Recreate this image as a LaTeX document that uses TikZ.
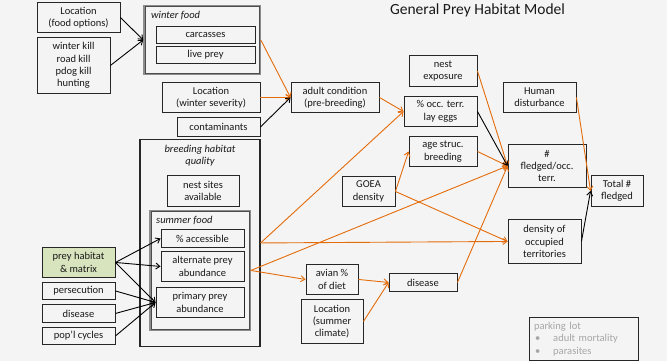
\documentclass[tikz,border=0pt]{standalone}
\usepackage{fontspec}
\setmainfont{Carlito}
\usetikzlibrary{arrows.meta}
\definecolor{bgcol}{HTML}{F4F4F4}
\definecolor{linkorange}{HTML}{E46C0A}
\definecolor{matrixgreen}{HTML}{D7E4BD}
\definecolor{lotgray}{HTML}{A6A6A6}

\begin{document}
\begin{tikzpicture}[x=1pt, y=-1pt, font=\fontsize{10.5}{12.3}\selectfont, text=black!90,
		box/.style={draw=black!85, line width=0.9pt, align=center, inner sep=1pt},
		grp/.style={draw=black!45, line width=1.6pt},
		grpin/.style={draw=black!70, line width=0.6pt},
		oarr/.style={draw=linkorange, line width=0.9pt, -{Straight Barb[length=4pt,width=6pt]}},
		barr/.style={draw=black, line width=0.9pt, -{Straight Barb[length=4pt,width=6pt]}}]
		\fill[bgcol] (0,0) rectangle (667,361);
		\node (title) at (477.5,9.5){\fontsize{15.5}{17}\selectfont General Prey Habitat Model};
		
		%winter food
		\node (locfood) at (78.5,17) [box, minimum width=83, minimum height=30]{Location\\(food options)};
		\node (kills) at (73.5,65) [box, minimum width=73, minimum height=56]{winter kill\\road kill\\pdog kill\\hunting};
		\node (winterfood) at (202,39.5) [grp, minimum width=116, minimum height=69]{};
		\draw[grpin] ([shift={(2,2)}]winterfood.north west) rectangle ([shift={(-2,-2)}]winterfood.south east);
		\node (wflabel) at (151,15.5) [anchor=west, inner sep=0]{\itshape winter food};
		\node (carcasses) at (205.5,34.5) [box, minimum width=99, minimum height=17]{carcasses};
		\node (liveprey) at (205.5,54.5) [box, minimum width=99, minimum height=17]{live prey};
		\node (locwinter) at (211,97) [box, minimum width=98, minimum height=30]{Location\\(winter severity)};
		\node (contam) at (218.5,126.5) [box, minimum width=83, minimum height=19]{contaminants};
		\node (adult) at (335,97) [box, minimum width=88, minimum height=30]{adult condition\\(pre-breeding)};
		
		%breeding habitat
		\node (breeding) at (200,242.5) [box, line width=1.2pt, minimum width=120, minimum height=207]{};
		\node (bqlabel) at (200,155) [align=center, inner sep=0]{\itshape breeding habitat\\\itshape quality};
		\node (nestsites) at (203,190.5) [box, minimum width=72, minimum height=31]{nest sites\\available};
		\node (summer) at (200,270) [grp, minimum width=100, minimum height=120]{};
		\draw[grpin] ([shift={(2,2)}]summer.north west) rectangle ([shift={(-2,-2)}]summer.south east);
		\node (sflabel) at (156,220) [anchor=west, inner sep=0]{\itshape summer food};
		\node (access) at (202.5,238) [box, minimum width=83, minimum height=18]{\% accessible};
		\node (altprey) at (202.5,266) [box, minimum width=83, minimum height=30]{alternate prey\\abundance};
		\node (primprey) at (200,302) [box, minimum width=88, minimum height=30]{primary prey\\abundance};
		
		\node (preyhab) at (78.5,262) [box, fill=matrixgreen, minimum width=73, minimum height=30]{prey habitat\\\& matrix};
		\node (persec) at (78.5,290.5) [box, minimum width=73, minimum height=17]{persecution};
		\node (diseaseL) at (78.5,313) [box, minimum width=73, minimum height=18]{disease};
		\node (popl) at (78.5,335.5) [box, minimum width=73, minimum height=17]{pop’l cycles};
		
		%right part
		\node (nestexp) at (443,70.5) [box, minimum width=68, minimum height=31]{nest\\exposure};
		\node (layeggs) at (440.5,111) [box, minimum width=73, minimum height=30]{\% occ. terr.\\lay eggs};
		\node (agestruc) at (443,151) [box, minimum width=68, minimum height=30]{age struc.\\breeding};
		\node (goea) at (368.5,191) [box, minimum width=53, minimum height=30]{GOEA\\density};
		\node (human) at (539.5,97) [box, minimum width=73, minimum height=30]{Human\\disturbance};
		\node (fledged) at (547,165.5) [box, minimum width=78, minimum height=43]{\#\\fledged/occ.\\terr.};
		\node (total) at (617,190.5) [box, minimum width=52, minimum height=31]{Total \#\\fledged};
		\node (density) at (544.5,241) [box, minimum width=73, minimum height=44]{density of\\occupied\\territories};
		\node (avian) at (332,279) [box, minimum width=52, minimum height=30]{avian \%\\of diet};
		\node (locsummer) at (332,321) [box, minimum width=62, minimum height=44]{Location\\(summer\\climate)};
		\node (diseaseR) at (423,282) [box, minimum width=68, minimum height=18]{disease};
		\node (parking) at (583.5,338.5) [box, text=lotgray, align=left, text width=99, inner xsep=5pt, minimum height=43]{parking lot\\\hspace{1pt}\textbullet\hspace{13pt}adult mortality\\\hspace{1pt}\textbullet\hspace{13pt}parasites};
		
		%links
		\draw[barr] (locfood.east) -- (winterfood.west);
		\draw[barr] (kills.east) -- (winterfood.west);
		\draw[oarr] (winterfood.east) -- (adult.west);
		\draw[oarr] (locwinter.east) -- (adult.west);
		\draw[barr] (contam.east) -- (adult.west);
		\draw[oarr] (adult.east) -- (layeggs.west);
		\draw[oarr] (breeding.east) -- (layeggs.west);
		\draw[oarr] (breeding.east) -- (density.west);
		\draw[oarr] (summer.east) -- (avian.west);
		\foreach \dst in {access, altprey, primprey}{
			\draw[barr] (preyhab.east) -- (\dst.west);
		}
		\foreach \src in {persec, diseaseL, popl}{
			\draw[barr] (\src.east) -- (primprey.west);
		}
		\foreach \src in {nestexp, agestruc, diseaseR, summer}{
			\draw[oarr] (\src.east) -- (fledged.west);
		}
		\draw[barr] (layeggs.east) -- (fledged.west);
		\draw[oarr] (goea.east) -- (agestruc.west);
		\draw[oarr] (goea.east) -- (density.west);
		\draw[oarr] (avian.east) -- (diseaseR.west);
		\draw[oarr] (locsummer.east) -- (diseaseR.west);
		\draw[oarr] (human.east) -- (total.west);
		\draw[barr] (density.east) -- (total.west);
\end{tikzpicture}
\end{document}
